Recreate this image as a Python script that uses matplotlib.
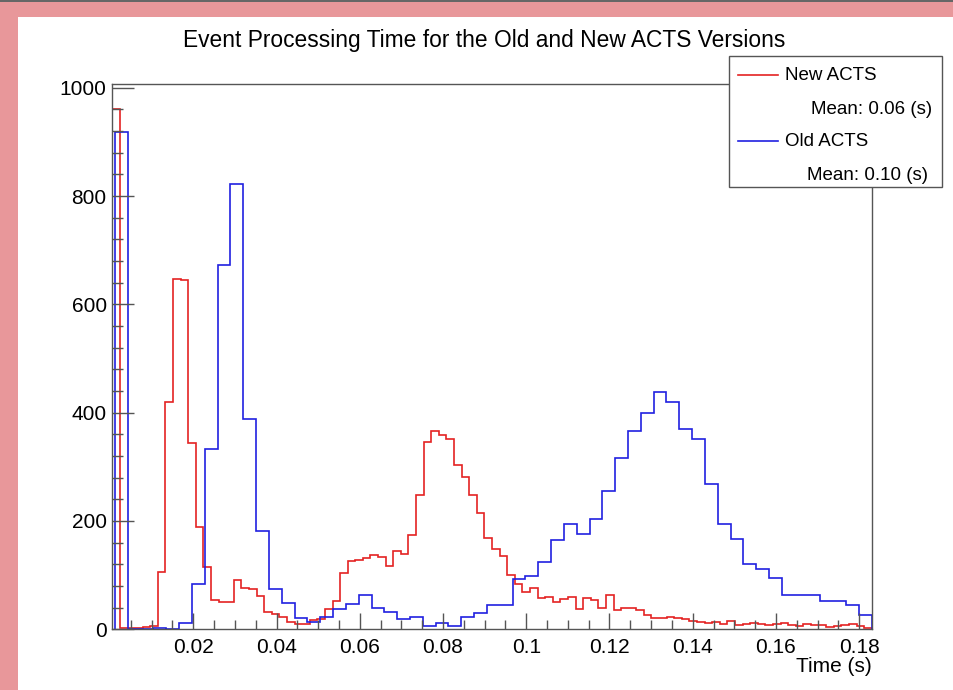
import numpy as np
import matplotlib
matplotlib.use("Agg")
import matplotlib.pyplot as plt
from matplotlib.patches import Rectangle
from matplotlib.lines import Line2D
from matplotlib.ticker import MultipleLocator, FuncFormatter

plt.rcParams['font.family'] = ['Liberation Sans', 'DejaVu Sans']

# histogram ranges (s)
x_min = 0.00055
x_max = 0.183
blue_start = 0.0012

# New ACTS: 100 bins
new_counts = [960, 2, 3, 2, 4, 5, 105, 420, 646, 645,
              343, 189, 114, 54, 50, 50, 90, 76, 74, 61,
              32, 28, 23, 14, 10, 10, 17, 18, 37, 53,
              103, 126, 128, 131, 137, 134, 117, 144, 138, 174,
              247, 346, 366, 359, 352, 304, 282, 247, 215, 169,
              148, 136, 101, 83, 68, 77, 57, 60, 51, 55,
              60, 37, 57, 54, 39, 64, 35, 39, 40, 35,
              26, 20, 20, 22, 20, 18, 16, 13, 12, 14,
              9, 15, 8, 10, 12, 9, 7, 10, 11, 8,
              5, 9, 7, 8, 4, 6, 8, 9, 5, 3]

# Old ACTS: 59 bins
old_counts = [918, 0, 1, 2, 1, 12, 83, 333, 672, 823,
              388, 182, 74, 48, 21, 14, 22, 38, 46, 63,
              40, 31, 18, 23, 6, 11, 6, 23, 29, 45,
              45, 92, 98, 124, 165, 194, 175, 203, 255, 316,
              367, 399, 439, 419, 369, 351, 269, 194, 166, 120,
              111, 94, 64, 64, 63, 52, 52, 45, 27]

new_edges = np.linspace(x_min, x_max, len(new_counts) + 1)
old_edges = np.linspace(blue_start, x_max, len(old_counts) + 1)

x_ticks = [0.02, 0.04, 0.06, 0.08, 0.1, 0.12, 0.14, 0.16, 0.18]
y_ticks = [0, 200, 400, 600, 800, 1000]

new_mean = "Mean: 0.06 (s)"
old_mean = "Mean: 0.10 (s)"

red = "#e42222"
blue = "#2020e0"
frame = "#555555"

W, H = 954, 690
fig = plt.figure(figsize=(W / 100, H / 100), dpi=100, facecolor="#e8979a")

# white canvas with dark top edge
fig.patches.append(Rectangle((18 / W, 0), 1 - 18 / W, (H - 17) / H,
                             transform=fig.transFigure, facecolor="white",
                             edgecolor="none", zorder=-10))
fig.patches.append(Rectangle((0, 1 - 2 / H), 1, 2 / H, transform=fig.transFigure,
                             facecolor="#666666", edgecolor="none", zorder=-10))

ax = fig.add_axes([112.3 / W, 1 - 629.2 / H, (871.7 - 112.3) / W, (629.2 - 84) / H])
ax.set_zorder(1)
ax.set_facecolor("white")

ax.stairs(new_counts, new_edges, color=red, lw=1.2, baseline=0)
ax.stairs(old_counts, old_edges, color=blue, lw=1.2, baseline=0)

ax.set_xlim(x_min, x_max)
ax.set_ylim(0, 1007)

ax.set_xticks(x_ticks)
ax.xaxis.set_major_formatter(FuncFormatter(lambda v, p: "%g" % v))
ax.xaxis.set_minor_locator(MultipleLocator(0.005))
ax.set_yticks(y_ticks)
ax.yaxis.set_minor_locator(MultipleLocator(40))

ax.tick_params(axis="both", which="both", direction="in", color=frame,
               width=1, labelsize=15, top=False, right=False)
ax.tick_params(axis="x", which="major", length=11.5, pad=6)
ax.tick_params(axis="x", which="minor", length=6.5)
ax.tick_params(axis="y", which="major", length=16, pad=4)
ax.tick_params(axis="y", which="minor", length=8)

for s in ax.spines.values():
    s.set_color(frame)
    s.set_linewidth(1)

ax.text(1.0, -0.068, "Time (s)", transform=ax.transAxes, ha="right",
        va="center", fontsize=15)

fig.text(484.5 / W, 1 - 41 / H, "Event Processing Time for the Old and New ACTS Versions",
         ha="center", va="center", fontsize=16.4)

# legend box
fig.patches.append(Rectangle((729 / W, 1 - 187 / H), (942 - 729) / W, (187 - 56) / H,
                             transform=fig.transFigure, facecolor="white",
                             edgecolor=frame, lw=1, zorder=5))
for y_px, c, name, mean, mean_x in [(75, red, "New ACTS", new_mean, 932),
                                    (141, blue, "Old ACTS", old_mean, 928)]:
    yf = 1 - y_px / H
    fig.add_artist(Line2D([738 / W, 778 / W], [yf, yf], color=c, lw=1.2,
                          transform=fig.transFigure, zorder=6))
    fig.text(785 / W, yf - 1 / H, name, ha="left", va="center", fontsize=13.5, zorder=6)
    fig.text(mean_x / W, 1 - (y_px + 34) / H, mean, ha="right", va="center",
             fontsize=13.5, zorder=6)

fig.savefig("out.png", dpi=100, facecolor=fig.get_facecolor())
